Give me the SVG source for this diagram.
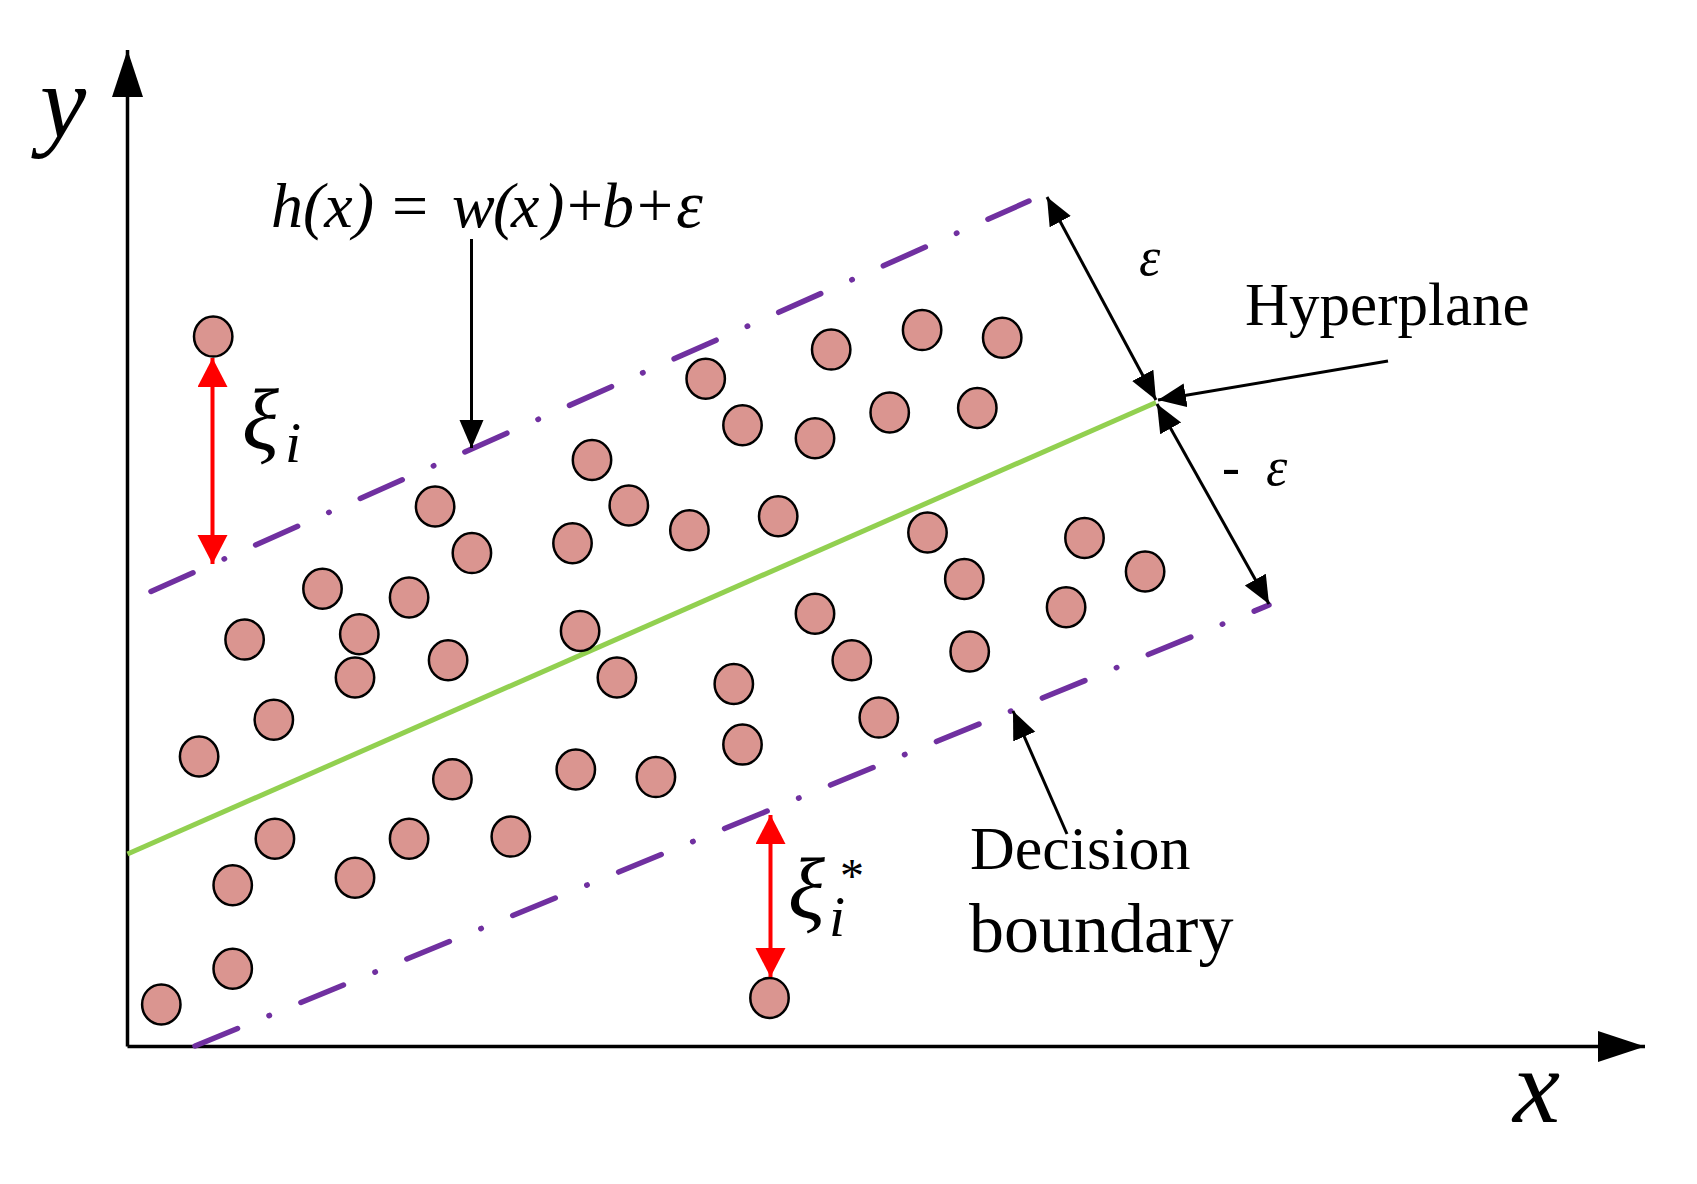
<svg xmlns="http://www.w3.org/2000/svg" width="1697" height="1184" viewBox="0 0 1697 1184">
<style>
.pt{fill:#DA9590;stroke:#000;stroke-width:2.5}
.bnd{fill:none;stroke:#7030A0;stroke-width:5.5;stroke-linecap:round;stroke-dasharray:46 34 0.5 34}
.ax{stroke:#000;stroke-width:3.5;fill:none}
.ar{stroke:#000;stroke-width:3;fill:none}
.rd{stroke:#FF0000;stroke-width:4;fill:none}
.serif{font-family:"Liberation Serif","Times New Roman",serif;fill:#000}
.it{font-style:italic}
</style>
<defs>
<marker id="axh" markerUnits="userSpaceOnUse" markerWidth="48" markerHeight="32" refX="47" refY="15.5" orient="auto"><path d="M0,0 L47,15.5 L0,31 z" fill="#000"/></marker>
<marker id="bh" markerUnits="userSpaceOnUse" markerWidth="30" markerHeight="26" refX="28" refY="12" orient="auto-start-reverse"><path d="M0,0 L28,12 L0,24 z" fill="#000"/></marker>
<marker id="rh" markerUnits="userSpaceOnUse" markerWidth="30" markerHeight="32" refX="29" refY="15" orient="auto-start-reverse"><path d="M0,0 L29,15 L0,30 z" fill="#FF0000"/></marker>
</defs>
<rect width="1697" height="1184" fill="#fff"/>

<g id="axes">
<line class="ax" x1="127.5" y1="1046.5" x2="127.5" y2="50" marker-end="url(#axh)"/>
<line class="ax" x1="127.5" y1="1046.5" x2="1645" y2="1046.5" marker-end="url(#axh)"/>
<text class="serif it" x="40" y="137" font-size="104">y</text>
<text class="serif it" x="1513" y="1122" font-size="106">x</text>
</g>

<g id="boundaries">
<line id="upper-boundary" class="bnd" x1="151" y1="591.5" x2="1029" y2="201"/>
<line id="lower-boundary" class="bnd" x1="195" y1="1046" x2="1269" y2="605"/>
<line id="hyperplane-line" x1="127.5" y1="854" x2="1156" y2="402.5" stroke="#92D050" stroke-width="5"/>
</g>

<g id="points">
<ellipse class="pt" cx="213.2" cy="336.6" rx="19.2" ry="20"/>
<ellipse class="pt" cx="705.7" cy="378.8" rx="19.2" ry="20"/>
<ellipse class="pt" cx="831.2" cy="349.6" rx="19.2" ry="20"/>
<ellipse class="pt" cx="922.1" cy="330.1" rx="19.2" ry="20"/>
<ellipse class="pt" cx="1002.2" cy="337.7" rx="19.2" ry="20"/>
<ellipse class="pt" cx="742.5" cy="425.3" rx="19.2" ry="20"/>
<ellipse class="pt" cx="815.0" cy="438.3" rx="19.2" ry="20"/>
<ellipse class="pt" cx="889.7" cy="412.4" rx="19.2" ry="20"/>
<ellipse class="pt" cx="977.3" cy="408.0" rx="19.2" ry="20"/>
<ellipse class="pt" cx="592.0" cy="460.0" rx="19.2" ry="20"/>
<ellipse class="pt" cx="435.1" cy="506.5" rx="19.2" ry="20"/>
<ellipse class="pt" cx="628.8" cy="505.4" rx="19.2" ry="20"/>
<ellipse class="pt" cx="689.4" cy="530.3" rx="19.2" ry="20"/>
<ellipse class="pt" cx="778.2" cy="516.3" rx="19.2" ry="20"/>
<ellipse class="pt" cx="471.9" cy="553.1" rx="19.2" ry="20"/>
<ellipse class="pt" cx="572.5" cy="543.3" rx="19.2" ry="20"/>
<ellipse class="pt" cx="322.5" cy="588.8" rx="19.2" ry="20"/>
<ellipse class="pt" cx="409.1" cy="597.4" rx="19.2" ry="20"/>
<ellipse class="pt" cx="244.6" cy="639.6" rx="19.2" ry="20"/>
<ellipse class="pt" cx="359.3" cy="634.2" rx="19.2" ry="20"/>
<ellipse class="pt" cx="580.1" cy="631.0" rx="19.2" ry="20"/>
<ellipse class="pt" cx="448.1" cy="660.2" rx="19.2" ry="20"/>
<ellipse class="pt" cx="355.0" cy="677.5" rx="19.2" ry="20"/>
<ellipse class="pt" cx="616.9" cy="677.5" rx="19.2" ry="20"/>
<ellipse class="pt" cx="273.8" cy="719.7" rx="19.2" ry="20"/>
<ellipse class="pt" cx="199.1" cy="756.5" rx="19.2" ry="20"/>
<ellipse class="pt" cx="927.5" cy="532.5" rx="19.2" ry="20"/>
<ellipse class="pt" cx="1084.5" cy="537.9" rx="19.2" ry="20"/>
<ellipse class="pt" cx="1145.1" cy="571.5" rx="19.2" ry="20"/>
<ellipse class="pt" cx="964.3" cy="579.0" rx="19.2" ry="20"/>
<ellipse class="pt" cx="1066.1" cy="607.2" rx="19.2" ry="20"/>
<ellipse class="pt" cx="815.0" cy="613.7" rx="19.2" ry="20"/>
<ellipse class="pt" cx="969.7" cy="651.5" rx="19.2" ry="20"/>
<ellipse class="pt" cx="851.8" cy="660.2" rx="19.2" ry="20"/>
<ellipse class="pt" cx="733.8" cy="684.0" rx="19.2" ry="20"/>
<ellipse class="pt" cx="878.8" cy="717.6" rx="19.2" ry="20"/>
<ellipse class="pt" cx="742.5" cy="744.6" rx="19.2" ry="20"/>
<ellipse class="pt" cx="452.4" cy="779.3" rx="19.2" ry="20"/>
<ellipse class="pt" cx="575.8" cy="769.5" rx="19.2" ry="20"/>
<ellipse class="pt" cx="655.9" cy="777.1" rx="19.2" ry="20"/>
<ellipse class="pt" cx="274.9" cy="838.8" rx="19.2" ry="20"/>
<ellipse class="pt" cx="409.1" cy="838.8" rx="19.2" ry="20"/>
<ellipse class="pt" cx="510.8" cy="836.6" rx="19.2" ry="20"/>
<ellipse class="pt" cx="232.7" cy="885.3" rx="19.2" ry="20"/>
<ellipse class="pt" cx="355.0" cy="877.7" rx="19.2" ry="20"/>
<ellipse class="pt" cx="232.7" cy="968.7" rx="19.2" ry="20"/>
<ellipse class="pt" cx="161.3" cy="1004.4" rx="19.2" ry="20"/>
<ellipse class="pt" cx="769.5" cy="997.9" rx="19.2" ry="20"/>
</g>

<g id="connectors">
<line class="ar" x1="471.5" y1="239" x2="471.5" y2="448" marker-end="url(#bh)"/>
<line class="ar" x1="1047" y1="197" x2="1156" y2="400" marker-start="url(#bh)" marker-end="url(#bh)"/>
<line class="ar" x1="1157" y1="404" x2="1269" y2="604" marker-start="url(#bh)" marker-end="url(#bh)"/>
<line class="ar" x1="1388" y1="361" x2="1158" y2="400" marker-end="url(#bh)"/>
<line class="ar" x1="1067" y1="834" x2="1013" y2="711" marker-end="url(#bh)"/>
<line class="rd" x1="212.5" y1="358" x2="212.5" y2="564" marker-start="url(#rh)" marker-end="url(#rh)"/>
<line class="rd" x1="770.5" y1="815" x2="770.5" y2="977" marker-start="url(#rh)" marker-end="url(#rh)"/>
</g>

<g id="label-formula">
<text class="serif" y="227" font-size="64"><tspan class="it" x="271">h(x)</tspan><tspan x="392">=</tspan><tspan class="it" x="452">w</tspan><tspan class="it" x="493">(</tspan><tspan class="it" x="511">x</tspan><tspan class="it" x="543">)</tspan><tspan x="567">+</tspan><tspan class="it" x="602">b</tspan><tspan x="637">+</tspan><tspan class="it" x="676" font-size="68">ε</tspan></text>
</g>
<g id="label-eps">
<text class="serif it" x="1139" y="275" font-size="54">ε</text>
</g>
<g id="label-neg-eps">
<text class="serif" y="485" font-size="54"><tspan x="1222">-</tspan><tspan class="it" x="1266">ε</tspan></text>
</g>
<g id="label-hyperplane">
<text class="serif" x="1245" y="325" font-size="61">Hyperplane</text>
</g>
<g id="label-decision">
<text class="serif" x="970" y="869" font-size="62">Decision</text>
<text class="serif" x="969" y="952" font-size="70">boundary</text>
</g>
<g id="label-xi">
<text class="serif it" x="242" y="449" font-size="86">ξ</text>
<text class="serif it" x="285" y="462" font-size="58">i</text>
</g>
<g id="label-xi-star">
<text class="serif it" x="788" y="918" font-size="86">ξ</text>
<text class="serif it" x="829" y="936" font-size="58">i</text>
<text class="serif" x="840" y="892" font-size="48">*</text>
</g>
</svg>
